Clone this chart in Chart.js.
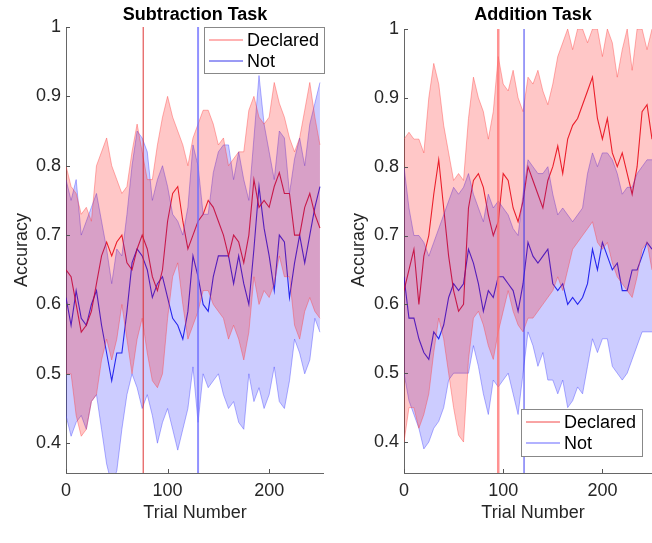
<!DOCTYPE html>
<html>
<head>
<meta charset="utf-8">
<script src="https://cdn.jsdelivr.net/npm/chart.js@4.4.1/dist/chart.umd.min.js"></script>
<style>
  html, body { margin: 0; padding: 0; background: #fff; overflow: hidden; }
  #wrap { position: relative; width: 652px; height: 543px; }
  canvas { position: absolute; top: 0; }
  #subCanvas { left: 0; }
  #addCanvas { left: 330px; }
</style>
</head>
<body>
<div id="wrap">
  <canvas id="subCanvas" width="330" height="543"></canvas>
  <canvas id="addCanvas" width="322" height="543"></canvas>
</div>
<script>
// trial numbers (every 5 trials)
const trials = [0, 5, 10, 15, 20, 25, 30, 35, 40, 45, 50, 55, 60, 65, 70, 75, 80, 85, 90, 95, 100,
  105, 110, 115, 120, 125, 130, 135, 140, 145, 150, 155, 160, 165, 170, 175, 180, 185, 190, 195, 200,
  205, 210, 215, 220, 225, 230, 235, 240, 245, 250];

const yTicks = [0.4, 0.5, 0.6, 0.7, 0.8, 0.9, 1];
const xTicks = [0, 100, 200];

// Subtraction task
const subDeclMean = [0.65, 0.64, 0.60, 0.56, 0.57, 0.59, 0.63, 0.67, 0.69, 0.67, 0.69, 0.70, 0.66, 0.65, 0.68, 0.70, 0.68,
  0.64, 0.62, 0.65, 0.72, 0.76, 0.77, 0.72, 0.68, 0.70, 0.72, 0.73, 0.75, 0.74, 0.72, 0.70, 0.67, 0.70, 0.69, 0.66,
  0.70, 0.78, 0.74, 0.75, 0.74, 0.77, 0.79, 0.76, 0.76, 0.70, 0.70, 0.74, 0.76, 0.73, 0.71];
const subDeclUpper = [0.80, 0.77, 0.76, 0.73, 0.74, 0.72, 0.80, 0.82, 0.84, 0.80, 0.78, 0.76, 0.77, 0.82, 0.86, 0.82, 0.78,
  0.78, 0.83, 0.87, 0.90, 0.87, 0.85, 0.83, 0.80, 0.84, 0.86, 0.88, 0.88, 0.86, 0.83, 0.84, 0.80, 0.81, 0.82, 0.82,
  0.88, 0.90, 0.87, 0.86, 0.87, 0.92, 0.89, 0.87, 0.84, 0.82, 0.84, 0.88, 0.92, 0.87, 0.83];
const subDeclLower = [0.50, 0.50, 0.44, 0.41, 0.42, 0.46, 0.47, 0.52, 0.55, 0.52, 0.55, 0.60, 0.55, 0.50, 0.55, 0.58, 0.53,
  0.49, 0.48, 0.50, 0.58, 0.64, 0.66, 0.60, 0.55, 0.57, 0.59, 0.62, 0.62, 0.60, 0.59, 0.58, 0.55, 0.57, 0.55, 0.52,
  0.56, 0.64, 0.60, 0.62, 0.61, 0.63, 0.67, 0.64, 0.64, 0.57, 0.55, 0.59, 0.61, 0.59, 0.58];
const subNotMean = [0.61, 0.57, 0.62, 0.58, 0.57, 0.60, 0.62, 0.57, 0.53, 0.49, 0.53, 0.53, 0.59, 0.66, 0.68, 0.67, 0.65,
  0.61, 0.63, 0.64, 0.61, 0.58, 0.57, 0.55, 0.59, 0.67, 0.64, 0.60, 0.59, 0.64, 0.67, 0.67, 0.67, 0.63, 0.67, 0.63,
  0.60, 0.68, 0.77, 0.71, 0.67, 0.62, 0.70, 0.69, 0.61, 0.66, 0.70, 0.66, 0.70, 0.74, 0.77];
const subNotUpper = [0.78, 0.75, 0.78, 0.70, 0.72, 0.74, 0.76, 0.72, 0.68, 0.63, 0.68, 0.67, 0.73, 0.80, 0.85, 0.84, 0.82,
  0.75, 0.78, 0.80, 0.77, 0.73, 0.72, 0.70, 0.74, 0.83, 0.80, 0.73, 0.73, 0.79, 0.82, 0.83, 0.83, 0.78, 0.82, 0.78,
  0.75, 0.84, 0.93, 0.86, 0.82, 0.78, 0.85, 0.84, 0.76, 0.81, 0.84, 0.80, 0.86, 0.89, 0.92];
const subNotLower = [0.44, 0.41, 0.43, 0.44, 0.42, 0.46, 0.47, 0.42, 0.37, 0.34, 0.36, 0.42, 0.47, 0.50, 0.48, 0.45, 0.47,
  0.44, 0.40, 0.43, 0.45, 0.42, 0.39, 0.42, 0.45, 0.51, 0.43, 0.50, 0.48, 0.49, 0.50, 0.47, 0.45, 0.46, 0.43, 0.42,
  0.50, 0.46, 0.48, 0.45, 0.47, 0.51, 0.46, 0.45, 0.49, 0.55, 0.53, 0.50, 0.52, 0.58, 0.56];

// Addition task
const addDeclMean = [0.62, 0.65, 0.68, 0.60, 0.67, 0.70, 0.76, 0.81, 0.74, 0.67, 0.62, 0.59, 0.60, 0.74, 0.78, 0.79, 0.77,
  0.73, 0.70, 0.72, 0.79, 0.78, 0.74, 0.72, 0.75, 0.80, 0.78, 0.76, 0.74, 0.78, 0.80, 0.83, 0.79, 0.84, 0.86, 0.87,
  0.89, 0.91, 0.93, 0.87, 0.84, 0.87, 0.82, 0.80, 0.82, 0.79, 0.76, 0.80, 0.88, 0.89, 0.84];
const addDeclUpper = [0.84, 0.85, 0.84, 0.84, 0.82, 0.90, 0.95, 0.92, 0.86, 0.82, 0.78, 0.79, 0.78, 0.87, 0.93, 0.90, 0.88,
  0.84, 0.88, 0.96, 0.92, 0.91, 0.94, 0.90, 0.88, 0.93, 0.92, 0.94, 0.91, 0.89, 0.92, 0.96, 0.98, 1.00, 0.97, 1.00,
  1.00, 0.98, 1.00, 1.00, 0.96, 1.00, 0.98, 0.93, 0.97, 1.00, 0.94, 1.00, 1.00, 0.97, 1.00];
const addDeclLower = [0.40, 0.45, 0.45, 0.42, 0.44, 0.47, 0.53, 0.58, 0.55, 0.50, 0.45, 0.41, 0.40, 0.52, 0.58, 0.59, 0.57,
  0.54, 0.52, 0.56, 0.59, 0.62, 0.59, 0.57, 0.56, 0.58, 0.58, 0.59, 0.60, 0.61, 0.62, 0.64, 0.62, 0.65, 0.68, 0.69,
  0.70, 0.71, 0.72, 0.69, 0.68, 0.69, 0.66, 0.64, 0.63, 0.62, 0.61, 0.64, 0.68, 0.69, 0.65];
const addNotMean = [0.64, 0.58, 0.58, 0.55, 0.53, 0.52, 0.56, 0.55, 0.57, 0.61, 0.63, 0.62, 0.63, 0.68, 0.66, 0.63, 0.59,
  0.62, 0.61, 0.64, 0.64, 0.63, 0.62, 0.59, 0.63, 0.69, 0.67, 0.66, 0.67, 0.68, 0.63, 0.62, 0.63, 0.60, 0.61, 0.60,
  0.61, 0.63, 0.68, 0.65, 0.69, 0.67, 0.65, 0.66, 0.62, 0.62, 0.65, 0.65, 0.67, 0.69, 0.68];
const addNotUpper = [0.80, 0.74, 0.70, 0.70, 0.69, 0.67, 0.69, 0.71, 0.73, 0.75, 0.77, 0.76, 0.77, 0.79, 0.76, 0.74, 0.72,
  0.76, 0.74, 0.75, 0.74, 0.73, 0.71, 0.70, 0.76, 0.81, 0.80, 0.79, 0.79, 0.80, 0.76, 0.73, 0.74, 0.73, 0.72, 0.73,
  0.74, 0.79, 0.82, 0.80, 0.82, 0.82, 0.81, 0.79, 0.76, 0.77, 0.77, 0.79, 0.80, 0.81, 0.81];
const addNotLower = [0.50, 0.46, 0.44, 0.42, 0.39, 0.40, 0.42, 0.43, 0.45, 0.49, 0.50, 0.50, 0.50, 0.50, 0.54, 0.51, 0.47,
  0.44, 0.49, 0.48, 0.49, 0.50, 0.47, 0.44, 0.50, 0.56, 0.54, 0.51, 0.53, 0.49, 0.49, 0.47, 0.49, 0.45, 0.46, 0.48,
  0.47, 0.51, 0.55, 0.53, 0.55, 0.55, 0.51, 0.50, 0.49, 0.50, 0.52, 0.54, 0.56, 0.56, 0.56];

// vertical marker positions (trial numbers)
const subMarks = [76, 130];
const addMarks = [95, 121];

const FONT = '"Liberation Sans", Arial, Helvetica, sans-serif';
const INK = '#262626';

function pts(ys) {
  return trials.map((t, i) => ({ x: t, y: ys[i] }));
}

// titles, axis labels, legend, inward ticks and vertical markers
const overlay = {
  id: 'overlay',
  afterDatasetsDraw(chart, args, o) {
    const { ctx, chartArea: a, scales: { x } } = chart;
    ctx.save();
    o.marks.forEach((v, i) => {
      const px = x.getPixelForValue(v);
      ctx.strokeStyle = o.markColors[i];
      ctx.lineWidth = o.markWidths[i];
      ctx.beginPath();
      ctx.moveTo(px, a.top);
      ctx.lineTo(px, a.bottom);
      ctx.stroke();
    });
    ctx.restore();
  },
  afterDraw(chart, args, o) {
    const { ctx, chartArea: a, scales: { x, y } } = chart;
    ctx.save();
    ctx.strokeStyle = '#555';
    ctx.lineWidth = 1;
    ctx.beginPath();
    y.ticks.forEach(t => {
      const py = Math.round(y.getPixelForValue(t.value)) + 0.5;
      ctx.moveTo(a.left, py); ctx.lineTo(a.left + 4, py);
    });
    x.ticks.forEach(t => {
      const px = Math.round(x.getPixelForValue(t.value)) + 0.5;
      ctx.moveTo(px, a.bottom); ctx.lineTo(px, a.bottom - 4);
    });
    ctx.stroke();

    ctx.fillStyle = '#000';
    ctx.textAlign = 'center';
    ctx.textBaseline = 'middle';
    ctx.font = 'bold 18px ' + FONT;
    ctx.fillText(o.title, o.titleX, 15);

    ctx.fillStyle = INK;
    ctx.font = '18px ' + FONT;
    ctx.fillText('Trial Number', o.titleX, 513);
    ctx.save();
    ctx.translate(o.ylabelX, 250);
    ctx.rotate(-Math.PI / 2);
    ctx.fillText('Accuracy', 0, 0);
    ctx.restore();

    const L = o.legend;
    ctx.fillStyle = '#fff';
    ctx.fillRect(L.x, L.y, L.w, L.h);
    ctx.strokeStyle = '#888';
    ctx.strokeRect(L.x + 0.5, L.y + 0.5, L.w, L.h);
    L.items.forEach((it, i) => {
      const cy = L.y + 13 + i * 21;
      ctx.strokeStyle = it.color;
      ctx.lineWidth = it.width;
      ctx.beginPath();
      ctx.moveTo(L.x + 5, cy); ctx.lineTo(L.x + 39, cy);
      ctx.stroke();
      ctx.fillStyle = '#000';
      ctx.textAlign = 'left';
      ctx.fillText(it.label, L.x + 43, cy + 1);
    });
    ctx.restore();
  }
};

function makePanel(canvasId, cfg) {
  const band = (ys, edge, fillColor, fill) => ({
    data: pts(ys), borderColor: edge, borderWidth: 1, pointRadius: 0,
    backgroundColor: fillColor, fill: fill, tension: 0
  });
  const line = (ys, color) => ({
    data: pts(ys), borderColor: color, borderWidth: 1.1, pointRadius: 0, fill: false, tension: 0
  });
  return new Chart(document.getElementById(canvasId), {
    type: 'line',
    data: {
      datasets: [
        band(cfg.declUpper, 'rgba(255,60,60,0.4)', 'rgba(255,0,0,0.2)', false),
        band(cfg.declLower, 'rgba(255,60,60,0.4)', 'rgba(255,0,0,0.22)', '-1'),
        band(cfg.notUpper, 'rgba(60,60,255,0.4)', 'rgba(0,0,255,0.2)', false),
        band(cfg.notLower, 'rgba(60,60,255,0.4)', 'rgba(0,0,255,0.2)', '-1'),
        line(cfg.declMean, 'rgba(225,0,20,0.85)'),
        line(cfg.notMean, 'rgba(10,10,230,0.85)')
      ]
    },
    options: {
      responsive: false,
      animation: false,
      devicePixelRatio: 1,
      layout: { padding: { left: 0, top: cfg.top, right: cfg.right, bottom: 0 } },
      plugins: {
        legend: { display: false },
        tooltip: { enabled: false },
        overlay: cfg.overlay
      },
      scales: {
        x: {
          type: 'linear', min: 0, max: cfg.xMax,
          grid: { display: true, drawOnChartArea: false, drawTicks: false },
          border: { display: true, color: '#666', width: 1 },
          ticks: { color: INK, font: { family: FONT, size: 18 }, padding: 7, maxRotation: 0 },
          afterBuildTicks: s => { s.ticks = xTicks.map(v => ({ value: v })); },
          afterFit: s => { s.height = 543 - 473; }
        },
        y: {
          min: cfg.yMin, max: 1,
          grid: { display: true, drawOnChartArea: false, drawTicks: false },
          border: { display: true, color: '#666', width: 1 },
          ticks: { color: INK, font: { family: FONT, size: 18 }, padding: 5,
            callback: v => String(Math.round(v * 10) / 10) },
          afterBuildTicks: s => { s.ticks = yTicks.map(v => ({ value: v })); },
          afterFit: s => { s.width = cfg.left; }
        }
      }
    },
    plugins: [overlay]
  });
}

makePanel('subCanvas', {
  declMean: subDeclMean, declUpper: subDeclUpper, declLower: subDeclLower,
  notMean: subNotMean, notUpper: subNotUpper, notLower: subNotLower,
  xMax: 253, yMin: 0.357, top: 27, right: 7, left: 66,
  overlay: {
    title: 'Subtraction Task', titleX: 195, ylabelX: 22,
    marks: subMarks, markColors: ['rgba(220,30,30,0.9)', 'rgba(110,110,255,0.75)'], markWidths: [1, 2],
    legend: { x: 204, y: 27, w: 120, h: 46, items: [
      { label: 'Declared', color: 'rgba(255,110,110,0.7)', width: 1.5 },
      { label: 'Not', color: 'rgba(20,20,230,0.85)', width: 1 }
    ] }
  }
});

makePanel('addCanvas', {
  declMean: addDeclMean, declUpper: addDeclUpper, declLower: addDeclLower,
  notMean: addNotMean, notUpper: addNotUpper, notLower: addNotLower,
  xMax: 250, yMin: 0.355, top: 29, right: 0, left: 74,
  overlay: {
    title: 'Addition Task', titleX: 203, ylabelX: 29,
    marks: addMarks, markColors: ['rgba(255,110,110,0.75)', 'rgba(40,40,240,0.9)'], markWidths: [2.5, 1],
    legend: { x: 191, y: 409, w: 121, h: 47, items: [
      { label: 'Declared', color: 'rgba(240,40,40,0.85)', width: 1 },
      { label: 'Not', color: 'rgba(110,110,255,0.7)', width: 1.5 }
    ] }
  }
});
</script>
</body>
</html>
